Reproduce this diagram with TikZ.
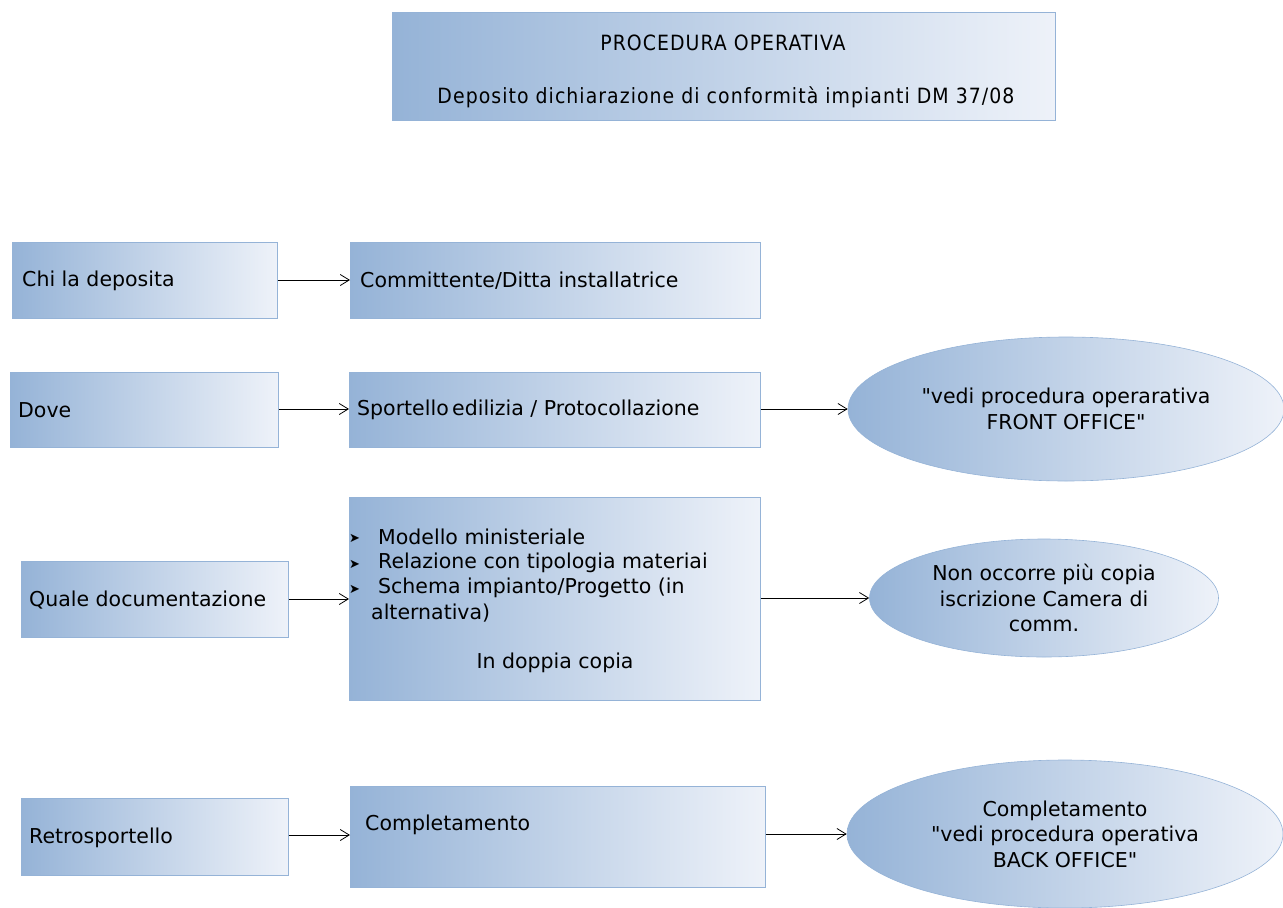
\documentclass[tikz,border=0pt]{standalone}
\usepackage{fontspec}
\setmainfont{DejaVu Sans}
\newfontfamily\bodyfont{DejaVu Sans}
\newfontfamily\condfont[LetterSpace=5]{DejaVu Sans Condensed}
\usetikzlibrary{arrows.meta,shapes.geometric}
\definecolor{shadeL}{HTML}{95B3D7}
\definecolor{shadeR}{HTML}{EEF2F9}
\definecolor{edge}{HTML}{95B3D7}
\newcommand\bul{{\fontsize{13}{13}\selectfont ➤}}
\tikzset{
  box/.style={draw=edge, line width=0.6pt, left color=shadeL, right color=shadeR, rectangle, anchor=north west, inner xsep=0pt, inner ysep=0pt},
  oval/.style={draw=edge, line width=0.6pt, left color=shadeL, right color=shadeR, ellipse, inner sep=0pt, align=center, font=\bodyfont\fontsize{20.5}{25.5}\selectfont},
  txt/.style={anchor=west, inner sep=0pt, font=\bodyfont\fontsize{20.5}{25}\selectfont},
  ttl/.style={inner sep=0pt, font=\condfont\fontsize{21}{24}\selectfont},
  conn/.style={-{Straight Barb[length=9pt,width=11pt]}, line width=0.8pt, black}
}
\begin{document}
\begin{tikzpicture}[x=1pt,y=-1pt]
\useasboundingbox (0,0) rectangle (1283,908);
% title
\node[box, minimum width=663pt, minimum height=108pt] (title) at (392,12) {};
\node[ttl] (t1) at (723,43) {PROCEDURA OPERATIVA};
\node[ttl] (t2) at (726,97) {Deposito dichiarazione di conformità impianti DM 37/08};
% row 1
\node[box, minimum width=265pt, minimum height=76pt] (chi) at (12,242) {};
\node[txt] (chit) at (22,281) {Chi la deposita};
\node[box, minimum width=410pt, minimum height=76pt] (comm) at (350,242) {};
\node[txt] (commt) at (360,281) {Committente/Ditta installatrice};
\draw[conn] (chi.east |- 0,280) -- (comm.west |- 0,280);
% row 2
\node[box, minimum width=268pt, minimum height=75pt] (dove) at (10,372) {};
\node[txt] (dovet) at (18,410) {Dove};
\node[box, minimum width=411pt, minimum height=75pt] (sport) at (349,372) {};
\node[txt] (sportt) at (357,410) {Sportello\,edilizia / Protocollazione};
\node[oval, minimum width=436pt, minimum height=144pt] (front) at (1066,409) {"vedi procedura operarativa\\FRONT OFFICE"};
\draw[conn] (dove.east |- 0,409) -- (sport.west |- 0,409);
\draw[conn] (sport.east |- front.west) -- (front.west);
% row 3
\node[box, minimum width=267pt, minimum height=76pt] (quale) at (21,561) {};
\node[txt] (qualet) at (29,600) {Quale documentazione};
\node[box, minimum width=411pt, minimum height=203pt] (docs) at (349,497) {};
\node[txt] (b1) at (349,538) {\bul};
\node[txt] (d1) at (378,537) {Modello ministeriale};
\node[txt] (b2) at (349,564) {\bul};
\node[txt] (d2) at (378,563) {Relazione con tipologia materiai};
\node[txt] (b3) at (349,589) {\bul};
\node[txt] (d3) at (378,588) {Schema impianto/Progetto (in};
\node[txt] (d4) at (371,613) {alternativa)};
\node[txt, anchor=center] (d5) at (555,663) {In doppia copia};
\node[oval, minimum width=349pt, minimum height=118pt] (camera) at (1044,598) {Non occorre più copia\\iscrizione Camera di\\comm.};
\draw[conn] (quale.east |- 0,599) -- (docs.west |- 0,599);
\draw[conn] (docs.east |- camera.west) -- (camera.west);
% row 4
\node[box, minimum width=267pt, minimum height=77pt] (retro) at (21,798) {};
\node[txt] (retrot) at (29,838) {Retrosportello};
\node[box, minimum width=415pt, minimum height=101pt] (compl) at (350,786) {};
\node[txt] (complt) at (365,825) {Completamento};
\node[oval, minimum width=436pt, minimum height=148pt] (back) at (1065,834) {Completamento\\"vedi procedura operativa\\BACK OFFICE"};
\draw[conn] (retro.east |- 0,835) -- (compl.west |- 0,835);
\draw[conn] (compl.east |- back.west) -- (back.west);
\end{tikzpicture}
\end{document}
